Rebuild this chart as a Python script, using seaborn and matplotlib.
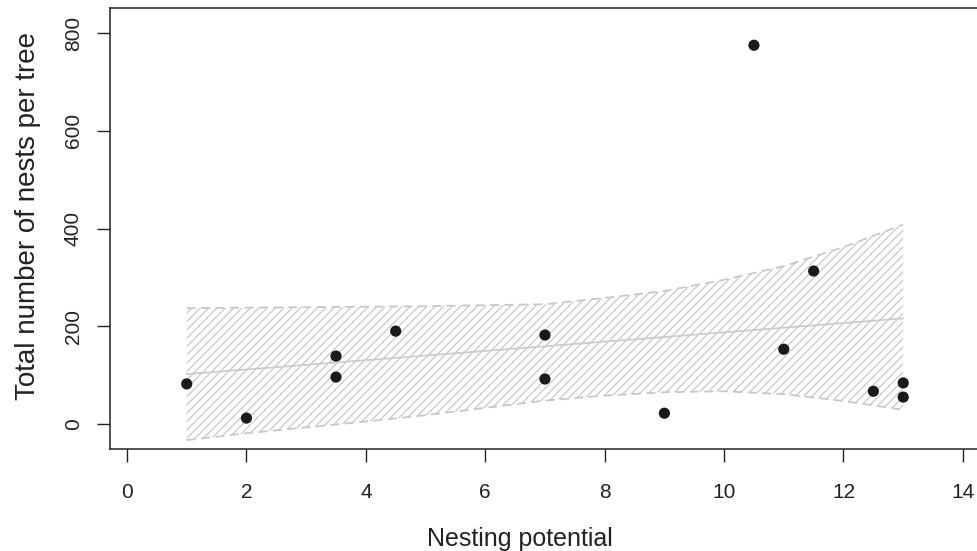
import numpy as np
import pandas as pd
import matplotlib
matplotlib.use("Agg")
import matplotlib.pyplot as plt
import seaborn as sns

# points
nesting = [1, 2, 3.5, 3.5, 4.5, 7, 7, 9, 10.5, 11, 11.5, 12.5, 13, 13]
nests = [82, 12, 139, 96, 190, 182, 92, 22, 775, 153, 313, 67, 84, 55]

# fitted line and its band
fit_x = [1, 13]
fit_y = [102, 216]
band_x = [1, 2, 3, 4, 5, 6, 7, 8, 9, 10, 11, 12, 13]
band_hi = [237, 238, 239, 240, 241, 243, 245, 258, 272, 295, 323, 362, 408]
band_lo = [-33, -19, -7, 5, 18, 33, 48, 58, 65, 67, 61, 47, 29]

xticks = [0, 2, 4, 6, 8, 10, 12, 14]
yticks = [0, 200, 400, 600, 800]

sns.set_style("white")
plt.rcParams['font.family'] = ['Liberation Sans', 'DejaVu Sans']
plt.rcParams['hatch.color'] = '#c8c8c8'
plt.rcParams['hatch.linewidth'] = 0.9

df = pd.DataFrame({'x': nesting, 'y': nests})
band = pd.DataFrame({'x': band_x, 'hi': band_hi, 'lo': band_lo})
fit = pd.DataFrame({'x': fit_x, 'y': fit_y})

fig = plt.figure(figsize=(9.77, 5.51), dpi=100)
ax = fig.add_axes([110/977, 102/551, 875/977, 441/551])

ax.fill_between(band['x'], band['lo'], band['hi'], facecolor='none',
                edgecolor='#c8c8c8', hatch='////', linewidth=0)
sns.lineplot(data=band, x='x', y='hi', ax=ax, color='#c8c8c8', lw=1.3,
             linestyle=(0, (5, 3)))
sns.lineplot(data=band, x='x', y='lo', ax=ax, color='#c8c8c8', lw=1.3,
             linestyle=(0, (5, 3)))
sns.lineplot(data=fit, x='x', y='y', ax=ax, color='#cccccc', lw=1.3)
sns.scatterplot(data=df, x='x', y='y', ax=ax, color='#1a1a1a', s=65,
                edgecolor='none', zorder=5)

ax.set_xlim(-0.285, 14.37)
ax.set_ylim(-51.2, 851.2)
ax.set_xticks(xticks)
ax.set_yticks(yticks)
ax.set_yticklabels([str(v) for v in yticks], rotation=90, va='center')
ax.tick_params(axis='x', direction='out', length=9.5, width=1, color='#222222',
               labelsize=15, pad=15, labelcolor='#222222', bottom=True)
ax.tick_params(axis='y', direction='out', length=9.5, width=1, color='#222222',
               labelsize=15, pad=10, labelcolor='#222222', left=True)
for s in ax.spines.values():
    s.set_visible(True)
    s.set_color('#222222')
    s.set_linewidth(1.1)

ax.set_xlabel('Nesting potential', fontsize=18, color='#222222')
ax.set_ylabel('Total number of nests per tree', fontsize=20, color='#222222')
ax.xaxis.set_label_coords(0.468, -0.176)
ax.yaxis.set_label_coords(-0.079, 0.528)

plt.savefig('out.png', dpi=100)
